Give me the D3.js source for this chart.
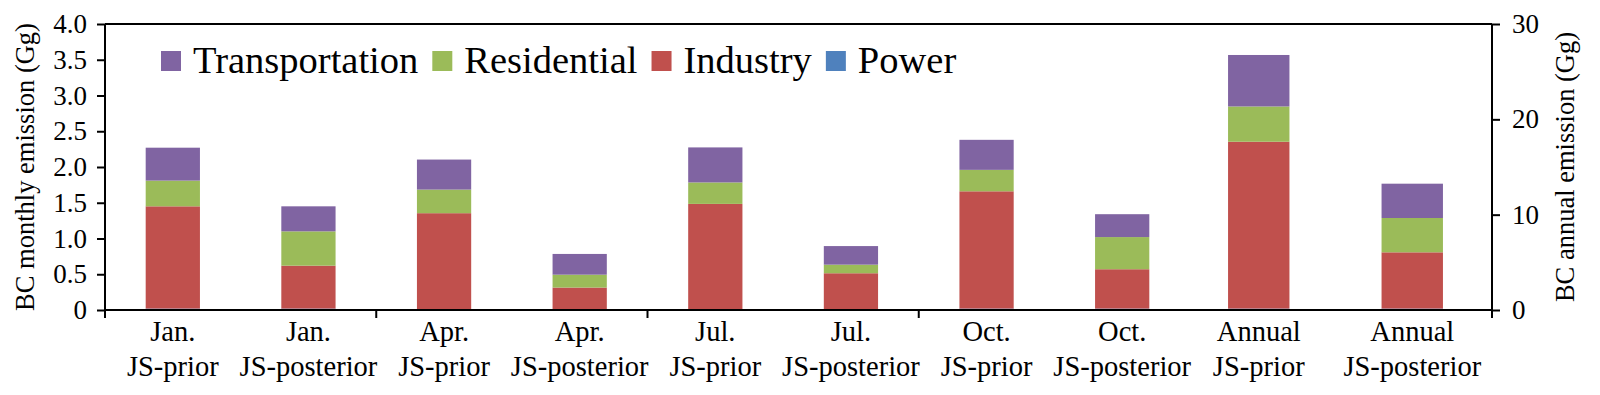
<!DOCTYPE html>
<html>
<head>
<meta charset="utf-8">
<script src="https://cdn.jsdelivr.net/npm/d3@7"></script>
<style>
  body { margin: 0; background: #fff; }
  svg { display: block; font-family: "Liberation Serif", "Times New Roman", serif; }
</style>
</head>
<body>
<svg></svg>
<script>
var width = 1600, height = 395;

// monthly bars (left axis, Gg)
var months = ["Jan.", "Jan.", "Apr.", "Apr.", "Jul.", "Jul.", "Oct.", "Oct."];
var monthCases = ["JS-prior", "JS-posterior", "JS-prior", "JS-posterior", "JS-prior", "JS-posterior", "JS-prior", "JS-posterior"];
var monthPower = [0.02, 0.02, 0.004, 0.004, 0.004, 0.004, 0.02, 0.02];
var monthIndustry = [1.43, 0.6, 1.35, 0.31, 1.48, 0.51, 1.64, 0.55];
var monthResidential = [0.36, 0.48, 0.33, 0.18, 0.3, 0.12, 0.3, 0.45];
var monthTransport = [0.46, 0.35, 0.42, 0.29, 0.49, 0.26, 0.42, 0.32];

// annual bars (right axis, Gg)
var annualLabels = ["Annual", "Annual"];
var annualCases = ["JS-prior", "JS-posterior"];
var annualPower = [0.15, 0.15];
var annualIndustry = [17.5, 5.9];
var annualResidential = [3.7, 3.6];
var annualTransport = [5.4, 3.6];

var sectors = ["Power", "Industry", "Residential", "Transportation"];
var legendOrder = ["Transportation", "Residential", "Industry", "Power"];
var leftTicks = [0, 0.5, 1, 1.5, 2, 2.5, 3, 3.5, 4];
var rightTicks = [0, 10, 20, 30];

var color = d3.scaleOrdinal()
    .domain(sectors)
    .range(["#4F81BD", "#C0504D", "#9BBB59", "#8064A2"]);

var svg = d3.select("svg")
    .attr("width", width)
    .attr("height", height);

var top_ = 24, bottom = 310, left = 105, right = 1492;

var yL = d3.scaleLinear().domain([0, 4]).range([bottom, top_]);
var yR = d3.scaleLinear().domain([0, 30]).range([bottom, top_]);

var xM = d3.scaleBand()
    .domain(d3.range(months.length))
    .range([left, 1190])
    .paddingInner(0.6).paddingOuter(0.3);
var xA = d3.scaleBand()
    .domain(d3.range(annualLabels.length))
    .range([1182, 1489])
    .paddingInner(0.6).paddingOuter(0.3);

function rows(power, ind, res, tr) {
    return power.map((p, i) => ({
        i: i, Power: p, Industry: ind[i], Residential: res[i], Transportation: tr[i]
    }));
}

var stack = d3.stack().keys(sectors);
var monthStack = stack(rows(monthPower, monthIndustry, monthResidential, monthTransport));
var annualStack = stack(rows(annualPower, annualIndustry, annualResidential, annualTransport));

function drawBars(series, x, y, cls) {
    svg.append("g")
        .attr("class", cls)
        .selectAll("g")
        .data(series)
        .join("g")
        .attr("fill", d => color(d.key))
        .selectAll("rect")
        .data(d => d)
        .join("rect")
        .attr("x", d => x(d.data.i))
        .attr("width", x.bandwidth())
        .attr("y", d => y(d[1]))
        .attr("height", d => y(d[0]) - y(d[1]));
}

drawBars(monthStack, xM, yL, "month-bars");
drawBars(annualStack, xA, yR, "annual-bars");

// axes
var axisL = svg.append("g")
    .attr("transform", `translate(${left},0)`)
    .call(d3.axisLeft(yL).tickValues(leftTicks)
        .tickFormat(d => d === 0 ? "0" : d3.format(".1f")(d))
        .tickSizeInner(8).tickSizeOuter(0).tickPadding(10));

var axisR = svg.append("g")
    .attr("transform", `translate(${right},0)`)
    .call(d3.axisRight(yR).tickValues(rightTicks)
        .tickSizeInner(8).tickSizeOuter(0).tickPadding(12));

[axisL, axisR].forEach(a => {
    a.select(".domain").remove();
    a.selectAll("line").attr("stroke", "#000").attr("stroke-width", 2);
    a.selectAll("text").attr("font-size", 27).attr("fill", "#000")
        .attr("font-family", "Liberation Serif, Times New Roman, serif");
});

// frame lines
svg.append("line").attr("x1", left).attr("x2", left).attr("y1", top_).attr("y2", bottom + 8)
    .attr("stroke", "#000").attr("stroke-width", 2);
svg.append("line").attr("x1", right).attr("x2", right).attr("y1", top_).attr("y2", bottom + 8)
    .attr("stroke", "#000").attr("stroke-width", 2);
svg.append("line").attr("x1", left).attr("x2", right).attr("y1", top_).attr("y2", top_)
    .attr("stroke", "#000").attr("stroke-width", 2);
svg.append("line").attr("x1", left).attr("x2", right).attr("y1", bottom).attr("y2", bottom)
    .attr("stroke", "#000").attr("stroke-width", 2);

// group ticks on the x axis
svg.append("g")
    .selectAll("line")
    .data([2, 4, 6])
    .join("line")
    .attr("x1", d => xM(d) - xM.step() * xM.paddingInner() / 2)
    .attr("x2", d => xM(d) - xM.step() * xM.paddingInner() / 2)
    .attr("y1", bottom)
    .attr("y2", bottom + 8)
    .attr("stroke", "#000")
    .attr("stroke-width", 2);

// category labels
function drawLabels(top, bottomLine, x) {
    var g = svg.append("g")
        .selectAll("text")
        .data(top)
        .join("text")
        .attr("text-anchor", "middle")
        .attr("font-size", 28.5);
    g.append("tspan").attr("x", (d, i) => x(i) + x.bandwidth() / 2).attr("y", 341).text(d => d);
    g.append("tspan").attr("x", (d, i) => x(i) + x.bandwidth() / 2).attr("y", 376).text((d, i) => bottomLine[i]);
}
drawLabels(months, monthCases, xM);
drawLabels(annualLabels, annualCases, xA);

// axis titles
svg.append("text")
    .attr("transform", `translate(34,${(top_ + bottom) / 2}) rotate(-90)`)
    .attr("text-anchor", "middle")
    .attr("font-size", 26.5)
    .text("BC monthly emission (Gg)");
svg.append("text")
    .attr("transform", `translate(1574,${(top_ + bottom) / 2}) rotate(-90)`)
    .attr("text-anchor", "middle")
    .attr("font-size", 26.5)
    .text("BC annual emission (Gg)");

// legend
var lx = 161;
legendOrder.forEach(k => {
    svg.append("rect")
        .attr("x", lx).attr("y", 51)
        .attr("width", 20).attr("height", 20)
        .attr("fill", color(k));
    var t = svg.append("text")
        .attr("x", lx + 32).attr("y", 73)
        .attr("font-size", 38.5)
        .text(k);
    lx += 32 + t.node().getComputedTextLength() + 14;
});
</script>
</body>
</html>
